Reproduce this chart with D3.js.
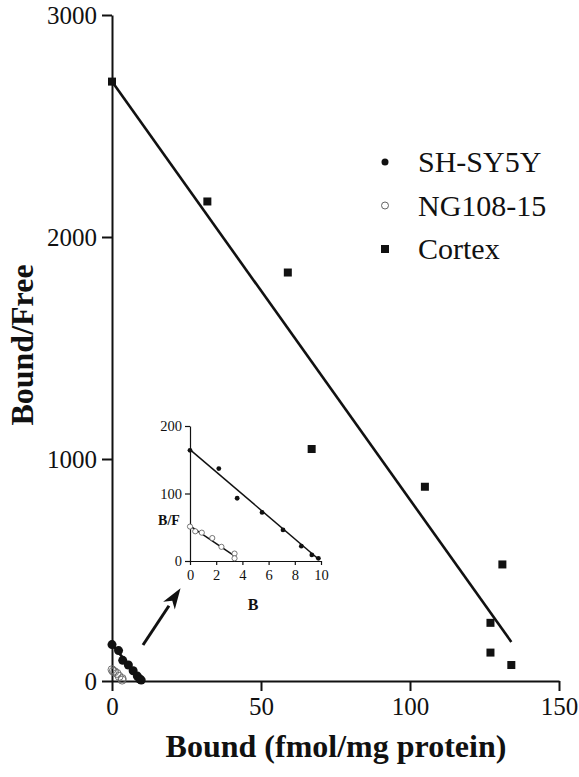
<!DOCTYPE html>
<html>
<head>
<meta charset="utf-8">
<script src="https://cdn.jsdelivr.net/npm/d3@7"></script>
<style>
  html, body { margin: 0; padding: 0; background: #fff; }
  svg { display: block; }
</style>
</head>
<body>
<svg id="chart" width="579" height="777"></svg>
<script>
// Scatchard data: bound (fmol/mg protein) vs bound/free
const shsy5yBound = [0, 2.2, 3.6, 5.5, 7.1, 8.5, 9.3, 9.8];
const shsy5yRatio = [164, 137, 93, 72, 46, 22, 9, 4];
const ng108Bound = [0, 0.4, 0.9, 1.7, 2.4, 3.4, 3.4];
const ng108Ratio = [51, 44, 42, 34, 21, 11, 4];
const cortexBound = [0, 32, 59, 67, 105, 131, 127, 127, 134];
const cortexRatio = [2700, 2160, 1840, 1045, 875, 525, 262, 128, 72];

// linear fits: [x start, y start, x end, y end]
const cortexFit = [0, 2700, 134, 176];
const shsy5yFit = [0, 165, 9.8, 3];
const ng108Fit = [0, 52, 3.5, 6];

const mainXTicks = [0, 50, 100, 150];
const mainYTicks = [0, 1000, 2000, 3000];
const insetXTicks = [0, 2, 4, 6, 8, 10];
const insetYTicks = [0, 100, 200];

const legendLabels = ["SH-SY5Y", "NG108-15", "Cortex"];

const svg = d3.select("#chart");
const ink = "#111";
const serif = "'Liberation Serif', 'Times New Roman', serif";

function label(sel, size, bold) {
  return sel.style("font-family", serif).style("font-size", size + "px")
    .style("font-weight", bold ? "bold" : "normal").attr("fill", ink);
}

// ---------- main panel ----------
const x = d3.scaleLinear().domain([0, 150]).range([112, 559]);
const y = d3.scaleLinear().domain([0, 3000]).range([681, 15]);

const xAxis = d3.axisBottom(x).tickValues(mainXTicks).tickSize(10).tickPadding(6).tickFormat(d3.format("d"));
const yAxis = d3.axisLeft(y).tickValues(mainYTicks).tickSize(10).tickPadding(5).tickFormat(d3.format("d"));

function styleAxis(g, fontSize, width) {
  g.attr("font-family", serif).attr("font-size", fontSize);
  g.select(".domain").attr("stroke", ink).attr("stroke-width", width);
  g.selectAll(".tick line").attr("stroke", ink).attr("stroke-width", width);
  label(g.selectAll(".tick text"), fontSize, false);
}

svg.append("g").attr("transform", `translate(0,${y(0)})`)
  .call(xAxis.tickSizeOuter(0)).call(g => styleAxis(g, 25, 2));
svg.append("g").attr("transform", `translate(${x(0)},0)`)
  .call(yAxis.tickSizeOuter(0)).call(g => styleAxis(g, 25, 2));

label(svg.append("text"), 32, true)
  .attr("x", 336).attr("y", 757).attr("text-anchor", "middle")
  .text("Bound (fmol/mg protein)");
label(svg.append("text"), 32, true)
  .attr("transform", "translate(33,345) rotate(-90)").attr("text-anchor", "middle")
  .text("Bound/Free");

function fitLine(sx, sy, fit, width) {
  svg.append("line")
    .attr("x1", sx(fit[0])).attr("y1", sy(fit[1]))
    .attr("x2", sx(fit[2])).attr("y2", sy(fit[3]))
    .attr("stroke", ink).attr("stroke-width", width);
}

fitLine(x, y, cortexFit, 2.6);
fitLine(x, y, shsy5yFit, 2.6);

// cortex squares
const sq = 8;
svg.append("g").selectAll("rect").data(d3.zip(cortexBound, cortexRatio)).join("rect")
  .attr("x", d => x(d[0]) - sq / 2).attr("y", d => y(d[1]) - sq / 2)
  .attr("width", sq).attr("height", sq).attr("fill", ink);

// cell lines at full scale
svg.append("g").selectAll("circle").data(d3.zip(ng108Bound, ng108Ratio)).join("circle")
  .attr("cx", d => x(d[0])).attr("cy", d => y(d[1])).attr("r", 4)
  .attr("fill", "none").attr("stroke", "#666").attr("stroke-width", 0.9);
svg.append("g").selectAll("circle").data(d3.zip(shsy5yBound, shsy5yRatio)).join("circle")
  .attr("cx", d => x(d[0])).attr("cy", d => y(d[1])).attr("r", 4.5).attr("fill", ink);

// ---------- legend ----------
const legendY = d3.scalePoint().domain(legendLabels).range([162, 249]);
const leg = svg.append("g");
leg.append("circle").attr("cx", 385).attr("cy", legendY("SH-SY5Y")).attr("r", 3.5).attr("fill", ink);
leg.append("circle").attr("cx", 385).attr("cy", legendY("NG108-15")).attr("r", 3.5)
  .attr("fill", "none").attr("stroke", "#555").attr("stroke-width", 0.9);
leg.append("rect").attr("x", 381).attr("y", legendY("Cortex") - 4).attr("width", 8).attr("height", 8).attr("fill", ink);
label(leg.selectAll("text").data(legendLabels).join("text"), 30, false)
  .attr("x", 418).attr("y", d => legendY(d) + 10)
  .text(d => d);

// ---------- inset: cell lines ----------
const ix = d3.scaleLinear().domain([0, 10]).range([190, 321]);
const iy = d3.scaleLinear().domain([0, 200]).range([561, 426]);

svg.append("g").attr("transform", `translate(0,${iy(0)})`)
  .call(d3.axisBottom(ix).tickValues(insetXTicks).tickSize(4).tickPadding(5).tickSizeOuter(0))
  .call(g => styleAxis(g, 14.5, 1.2));
svg.append("g").attr("transform", `translate(${ix(0)},0)`)
  .call(d3.axisLeft(iy).tickValues(insetYTicks).tickSize(5).tickPadding(3).tickSizeOuter(0))
  .call(g => styleAxis(g, 14.5, 1.2));

label(svg.append("text"), 16, true)
  .attr("x", 253).attr("y", 610).attr("text-anchor", "middle").text("B");
label(svg.append("text"), 14, true)
  .attr("x", 169).attr("y", 525).attr("text-anchor", "middle").text("B/F");

function insetLine(fit) {
  svg.append("line")
    .attr("x1", ix(fit[0])).attr("y1", iy(fit[1]))
    .attr("x2", ix(fit[2])).attr("y2", iy(fit[3]))
    .attr("stroke", ink).attr("stroke-width", 1.5);
}
insetLine(shsy5yFit);
insetLine(ng108Fit);

svg.append("g").selectAll("circle").data(d3.zip(shsy5yBound, shsy5yRatio)).join("circle")
  .attr("cx", d => ix(d[0])).attr("cy", d => iy(d[1])).attr("r", 2.4).attr("fill", ink);
svg.append("g").selectAll("circle").data(d3.zip(ng108Bound, ng108Ratio)).join("circle")
  .attr("cx", d => ix(d[0])).attr("cy", d => iy(d[1])).attr("r", 2.6)
  .attr("fill", "#fff").attr("stroke", "#555").attr("stroke-width", 0.8);

// ---------- arrow pointing from the cluster to the inset ----------
const arrowTail = [10.4, 162];
const arrowTip = [23, 418];
const ax0 = x(arrowTail[0]), ay0 = y(arrowTail[1]);
const ax1 = x(arrowTip[0]), ay1 = y(arrowTip[1]);
const ang = Math.atan2(ay1 - ay0, ax1 - ax0);
const headLen = 21, headHalf = 7;
const bx = ax1 - headLen * Math.cos(ang), by = ay1 - headLen * Math.sin(ang);
svg.append("line").attr("x1", ax0).attr("y1", ay0).attr("x2", bx).attr("y2", by)
  .attr("stroke", ink).attr("stroke-width", 3);
svg.append("path")
  .attr("d", d3.line()([
    [ax1, ay1],
    [bx + headHalf * Math.sin(ang), by - headHalf * Math.cos(ang)],
    [bx + 6 * Math.cos(ang), by + 6 * Math.sin(ang)],
    [bx - headHalf * Math.sin(ang), by + headHalf * Math.cos(ang)]
  ]) + "Z")
  .attr("fill", ink);
</script>
</body>
</html>
